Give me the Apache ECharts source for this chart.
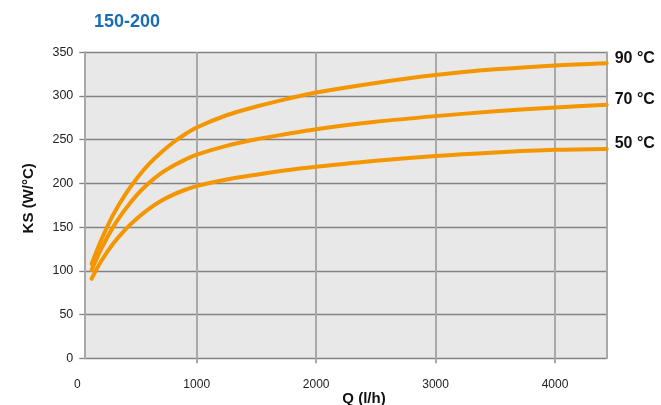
<!DOCTYPE html>
<html>
<head>
<meta charset="utf-8">
<script src="https://cdn.jsdelivr.net/npm/echarts@6/dist/echarts.min.js"></script>
<style>
  html, body { margin: 0; padding: 0; background: #ffffff; }
  #chart { width: 661px; height: 405px; }
</style>
</head>
<body>
<div id="chart"></div>
<script>
// Flow rate Q (l/h) at which KS was sampled
const flowQ = [120, 200, 300, 400, 500, 600, 700, 800, 900, 1000, 1250, 1500, 1750, 2000, 2500, 3000, 3500, 4000, 4433];

// KS (W/°C) for each supply temperature
const ks90 = [108, 135, 164, 187, 206, 222, 235, 246.5, 256, 264, 278, 288, 296.5, 304, 315, 324, 330.5, 335, 337.5];
const ks70 = [101, 125, 150, 170, 187, 200.5, 211.5, 220, 227, 233, 243, 250.5, 256.5, 262, 270.5, 277, 282.5, 287, 290];
const ks50 = [91, 111, 131, 147, 160, 171, 180, 187, 192.5, 197, 204.5, 210, 215, 219, 226, 231.5, 235.5, 238.5, 239.5];

const seriesNames = ['90 °C', '70 °C', '50 °C'];
const seriesValues = [ks90, ks70, ks50];

// Axis ticks and labels
const qTickLabels = [0, 1000, 2000, 3000, 4000];
const qTickMarks = [1000, 2000, 3000, 4000];
const qMin = 59, qMax = 4433;
const ksMin = 0, ksMax = 350, ksStep = 50;

const titleText = '150-200';
const xName = 'Q (l/h)';
const yName = 'KS (W/°C)';

const FONT = 'Liberation Sans, Arial, Helvetica, sans-serif';
const ORANGE = '#f39600';
const VGRID = '#a9a9a9';
const HGRID = '#828282';

const chart = echarts.init(document.getElementById('chart'), null, { renderer: 'canvas' });

const lineSeries = seriesNames.map((name, i) => ({
  name: name,
  type: 'line',
  xAxisIndex: 0,
  yAxisIndex: 0,
  data: flowQ.map((q, k) => [q, seriesValues[i][k]]),
  smooth: 0.3,
  showSymbol: false,
  symbol: 'none',
  lineStyle: { color: ORANGE, width: 4, cap: 'round', join: 'round' },
  itemStyle: { color: ORANGE },
  endLabel: {
    show: true,
    formatter: '{a}',
    distance: 8,
    offset: [0, -5],
    fontFamily: FONT,
    fontSize: 16,
    fontWeight: 'bold',
    color: '#111111'
  },
  emphasis: { disabled: true },
  z: 3
}));

chart.setOption({
  animation: false,
  backgroundColor: '#ffffff',
  textStyle: { fontFamily: FONT },
  title: {
    text: titleText,
    left: 89,
    top: 8,
    textStyle: { fontFamily: FONT, fontSize: 18, fontWeight: 'bold', color: '#1a6db5' }
  },
  grid: [
    // plot area with grey background
    { left: 84.3, right: 54.3, top: 52.3, bottom: 46.7, show: true,
      backgroundColor: '#e8e8e8', borderWidth: 0, outerBoundsMode: 'none' },
    // flow scale starting at zero, used for labels and vertical rules
    { left: 77.3, right: 54.3, top: 52.3, bottom: 46.7, show: false, outerBoundsMode: 'none' }
  ],
  xAxis: [
    {
      type: 'value', gridIndex: 0, min: qMin, max: qMax,
      axisLine: { show: false }, axisTick: { show: false },
      axisLabel: { show: false }, splitLine: { show: false }
    },
    {
      type: 'value', gridIndex: 1, min: 0, max: qMax, interval: 1000,
      name: xName,
      nameLocation: 'middle',
      nameGap: 33,
      nameMoveOverlap: false,
      nameTextStyle: { fontFamily: FONT, fontSize: 15, fontWeight: 'bold', color: '#111111',
                       padding: [0, 0, 0, 44] },
      axisLine: { show: false },
      axisTick: { show: true, customValues: qTickMarks, length: 5, inside: false,
                  lineStyle: { color: VGRID, width: 2 } },
      axisLabel: { show: true, customValues: qTickLabels, margin: 20,
                   formatter: v => String(v),
                   fontFamily: FONT, fontSize: 12, color: '#222222' },
      splitLine: { show: true, lineStyle: { color: VGRID, width: 2 } }
    }
  ],
  yAxis: [
    {
      type: 'value', gridIndex: 0, min: ksMin, max: ksMax, interval: ksStep,
      name: yName,
      nameLocation: 'middle',
      nameGap: 48,
      nameMoveOverlap: false,
      nameTextStyle: { fontFamily: FONT, fontSize: 15, fontWeight: 'bold', color: '#111111',
                       padding: [0, 0, 0, 14] },
      axisLine: { show: true, lineStyle: { color: VGRID, width: 2 } },
      axisTick: { show: true, length: 5, inside: false, lineStyle: { color: HGRID, width: 1.3 } },
      axisLabel: { margin: 11, fontFamily: FONT, fontSize: 12.5, color: '#222222' },
      splitLine: { show: true, lineStyle: { color: HGRID, width: 1.3 } }
    },
    { type: 'value', gridIndex: 1, min: ksMin, max: ksMax, show: false },
    // right-hand frame edge of the plot
    {
      type: 'value', gridIndex: 0, position: 'right', min: ksMin, max: ksMax,
      axisLine: { show: true, lineStyle: { color: VGRID, width: 2 } },
      axisTick: { show: false }, axisLabel: { show: false }, splitLine: { show: false }
    }
  ],
  series: lineSeries
});
</script>
</body>
</html>
